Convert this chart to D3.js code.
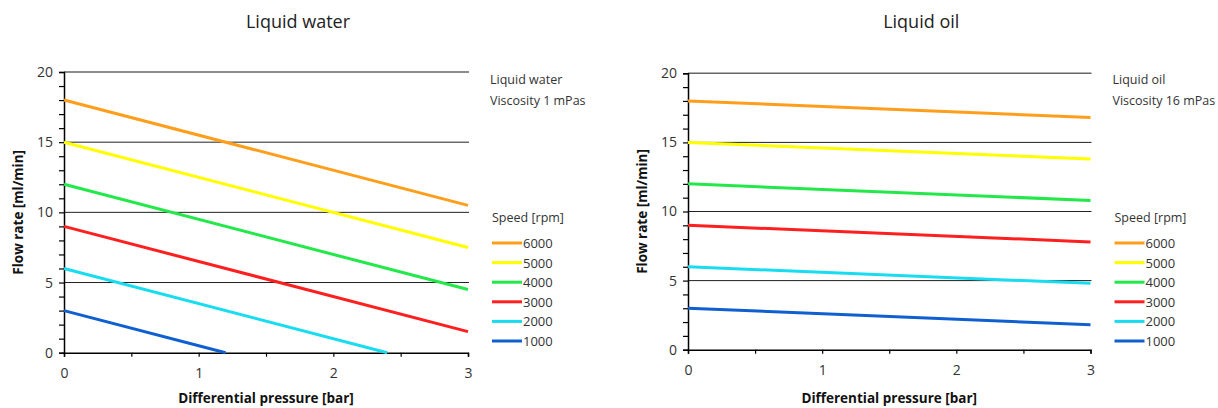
<!DOCTYPE html>
<html>
<head>
<meta charset="utf-8">
<script src="https://cdn.jsdelivr.net/npm/d3@7"></script>
<style>
  body { margin: 0; background: #fff; }
  svg { display: block; font-family: 'Open Sans', sans-serif; }
</style>
</head>
<body>
<div class="chart-container"></div>
<script>
(function() {
    'use strict';

    // speeds and colours shared by both panels
    var speeds = [6000, 5000, 4000, 3000, 2000, 1000];
    var speedColors = ['#ff9e1b', '#ffff00', '#22e84a', '#ff1f1f', '#18dcf0', '#0f5fd0'];

    // water: pressure [bar] at start/end of each line, flow [ml/min]
    var waterPressure = [[0, 3], [0, 3], [0, 3], [0, 3], [0, 2.4], [0, 1.2]];
    var waterFlow = [[18, 10.5], [15, 7.5], [12, 4.5], [9, 1.5], [6, 0], [3, 0]];

    // oil
    var oilPressure = [[0, 3], [0, 3], [0, 3], [0, 3], [0, 3], [0, 3]];
    var oilFlow = [[18, 16.8], [15, 13.8], [12, 10.8], [9, 7.8], [6, 4.8], [3, 1.8]];

    var xTicks = [0, 1, 2, 3];
    var yTicks = [0, 5, 10, 15, 20];

    var svg = d3.select('.chart-container')
        .append('svg')
        .attr('width', 1218)
        .attr('height', 408);

    function drawPanel(p) {
        var x = d3.scaleLinear().domain([0, 3]).range([p.left, p.right]);
        var y = d3.scaleLinear().domain([0, 20]).range([p.bottom, p.top]);
        var g = svg.append('g');

        // title
        g.append('text')
            .attr('x', (p.left + p.right) / 2 + 32)
            .attr('y', 28)
            .attr('text-anchor', 'middle')
            .attr('font-size', '18px')
            .attr('fill', '#222')
            .text(p.title);

        // grid lines
        g.selectAll('.grid').data(yTicks.slice(1)).enter()
            .append('line')
            .attr('x1', p.left).attr('x2', p.right + 1)
            .attr('y1', function(d) { return y(d); })
            .attr('y2', function(d) { return y(d); })
            .attr('stroke', function(d) { return d === 20 ? '#666' : '#222'; })
            .attr('stroke-width', function(d) { return d === 20 ? 1.6 : 1; });

        // y axis
        var yAxis = d3.axisLeft(y).tickValues(d3.range(0, 21, 1)).tickSize(5)
            .tickFormat(function(d) { return yTicks.indexOf(d) >= 0 ? d : ''; });
        var ya = g.append('g').attr('transform', 'translate(' + p.left + ',0)').call(yAxis);
        ya.select('.domain').attr('stroke', '#000').attr('stroke-width', 1.5);
        ya.selectAll('.tick line').attr('stroke', '#000').attr('stroke-width', 1.2);
        ya.selectAll('.tick text').attr('font-size', '14px').attr('fill', '#333')
            .attr('font-family', 'Open Sans, sans-serif').attr('x', -11);

        // x axis
        var xAxis = d3.axisBottom(x).tickValues(d3.range(0, 3.01, 0.5)).tickSize(4)
            .tickFormat(function(d) { return xTicks.indexOf(d) >= 0 ? d : ''; });
        var xa = g.append('g').attr('transform', 'translate(0,' + p.bottom + ')').call(xAxis);
        xa.select('.domain').attr('stroke', '#000').attr('stroke-width', 1.5);
        xa.selectAll('.tick line').attr('stroke', '#000').attr('stroke-width', 1.2);
        xa.selectAll('.tick text').attr('font-size', '14px').attr('fill', '#333')
            .attr('font-family', 'Open Sans, sans-serif').attr('y', 15);

        // axis titles
        g.append('text')
            .attr('x', (p.left + p.right) / 2)
            .attr('y', 403)
            .attr('text-anchor', 'middle')
            .attr('font-size', '13.5px')
            .attr('font-weight', 'bold')
            .attr('fill', '#111')
            .text('Differential pressure [bar]');
        g.append('text')
            .attr('transform', 'translate(' + (p.left - 41) + ',' + ((p.top + p.bottom) / 2) + ') rotate(-90)')
            .attr('text-anchor', 'middle')
            .attr('font-size', '13.5px')
            .attr('font-weight', 'bold')
            .attr('fill', '#111')
            .text('Flow rate [ml/min]');

        // series
        var line = d3.line()
            .x(function(d) { return x(d[0]); })
            .y(function(d) { return y(d[1]); });
        speeds.forEach(function(s, i) {
            var pts = p.pressure[i].map(function(px, j) { return [px, p.flow[i][j]]; });
            g.append('path')
                .attr('d', line(pts))
                .attr('fill', 'none')
                .attr('stroke', speedColors[i])
                .attr('stroke-width', 3);
        });

        // notes + legend
        var lx = p.right + 22;
        g.append('text').attr('x', lx).attr('y', 84).attr('font-size', '12.5px').attr('fill', '#333').text(p.title);
        g.append('text').attr('x', lx).attr('y', 105).attr('font-size', '12.5px').attr('fill', '#333').text(p.viscosity);
        g.append('text').attr('x', lx + 2).attr('y', 222).attr('font-size', '12.5px').attr('fill', '#333').text('Speed [rpm]');

        var leg = g.selectAll('.leg').data(speeds).enter()
            .append('g')
            .attr('transform', function(d, i) { return 'translate(' + (lx + 2) + ',' + (243 + i * 19.6) + ')'; });
        leg.append('line')
            .attr('x1', 0).attr('x2', 30).attr('y1', 0).attr('y2', 0)
            .attr('stroke', function(d, i) { return speedColors[i]; })
            .attr('stroke-width', 3);
        leg.append('text')
            .attr('x', 31).attr('y', 5)
            .attr('font-size', '13px').attr('fill', '#333')
            .text(function(d) { return d; });
    }

    drawPanel({
        title: 'Liquid water', viscosity: 'Viscosity 1 mPas',
        left: 64, right: 468, top: 72, bottom: 352.7,
        pressure: waterPressure, flow: waterFlow
    });
    drawPanel({
        title: 'Liquid oil', viscosity: 'Viscosity 16 mPas',
        left: 688, right: 1090.5, top: 73.3, bottom: 349.7,
        pressure: oilPressure, flow: oilFlow
    });
})();
</script>
</body>
</html>
